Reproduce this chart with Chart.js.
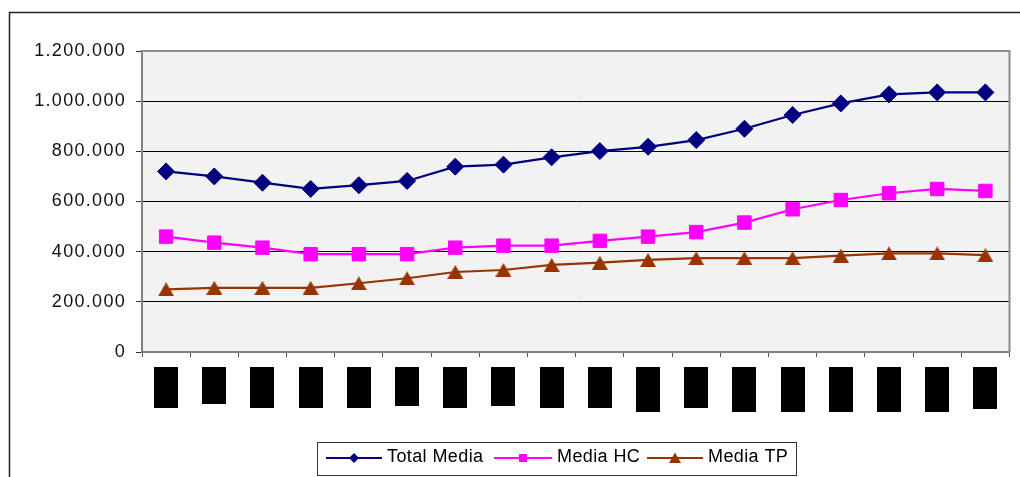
<!DOCTYPE html>
<html>
<head>
<meta charset="utf-8">
<style>
  html, body { margin: 0; padding: 0; background: #ffffff; }
  canvas { display: block; }
</style>
<script src="https://cdn.jsdelivr.net/npm/chart.js@4/dist/chart.umd.min.js"></script>
</head>
<body>
<canvas id="chart" width="1020" height="477"></canvas>
<script>
// Periods on the horizontal axis (their labels are masked when drawn)
const categories = ['P01', 'P02', 'P03', 'P04', 'P05', 'P06', 'P07', 'P08', 'P09',
                    'P10', 'P11', 'P12', 'P13', 'P14', 'P15', 'P16', 'P17', 'P18'];

// Series values
const totalMedia = [720000, 700000, 675000, 650000, 665000, 682000, 739000, 747000, 776000,
                    801000, 818000, 845000, 890000, 945000, 991000, 1027000, 1035000, 1035000];
const mediaHC    = [460000, 436000, 416000, 390000, 390000, 390000, 416000, 424000, 424000,
                    443000, 460000, 478000, 516000, 569000, 606000, 633000, 650000, 642000];
const mediaTP    = [250000, 256000, 256000, 256000, 274000, 294000, 319000, 327000, 347000,
                    356000, 367000, 374000, 374000, 374000, 384000, 393000, 393000, 386000];

// Value axis ticks
const yTicks = [0, 200000, 400000, 600000, 800000, 1000000, 1200000];

// Series names
const seriesNames = ['Total Media', 'Media HC', 'Media TP'];

// ---- styling ----
const COLORS = { total: '#000080', hc: '#FF00FF', tp: '#993300' };
const FONT = '"Liberation Sans", Arial, sans-serif';
const MASK_HEIGHTS = [41, 37, 41, 41, 41, 39, 41, 39, 41, 41, 45, 41, 45, 45, 45, 45, 45, 42];

const fmt = v => Math.round(v).toString().replace(/\B(?=(\d{3})+(?!\d))/g, '.');

// Triangle marker centred on its bounding box
function triangleImage(w, h, color) {
  const c = document.createElement('canvas');
  c.width = w; c.height = h;
  const g = c.getContext('2d');
  g.fillStyle = color;
  g.beginPath();
  g.moveTo(w / 2, 0);
  g.lineTo(w, h);
  g.lineTo(0, h);
  g.closePath();
  g.fill();
  return c;
}
const triMarker = triangleImage(16, 14, COLORS.tp);

function drawMarker(ctx, kind, x, y, color) {
  ctx.fillStyle = color;
  ctx.beginPath();
  if (kind === 'diamond') {
    ctx.moveTo(x, y - 5); ctx.lineTo(x + 5, y); ctx.lineTo(x, y + 5); ctx.lineTo(x - 5, y);
  } else if (kind === 'square') {
    ctx.rect(x - 4, y - 4, 8, 8);
  } else {
    ctx.moveTo(x, y - 5.5); ctx.lineTo(x + 6, y + 5); ctx.lineTo(x - 6, y + 5);
  }
  ctx.closePath();
  ctx.fill();
}

const framePlugin = {
  id: 'frame',
  beforeDraw(chart) {
    const { ctx, chartArea: a } = chart;
    ctx.save();
    // outer chart border (top and left edges)
    ctx.strokeStyle = '#222222';
    ctx.lineWidth = 1.5;
    ctx.beginPath();
    ctx.moveTo(9.5, chart.height + 2);
    ctx.lineTo(9.5, 12.5);
    ctx.lineTo(chart.width + 2, 12.5);
    ctx.stroke();
    // plot background
    ctx.fillStyle = '#F2F2F2';
    ctx.fillRect(a.left, a.top, a.right - a.left, a.bottom - a.top);
    ctx.restore();
    chart.ctx.letterSpacing = '1.3px';
  },
  beforeDatasetsDraw(chart) {
    const { ctx, chartArea: a } = chart;
    ctx.letterSpacing = '0px';
    ctx.save();
    ctx.strokeStyle = '#8C8C8C';
    ctx.lineWidth = 2;
    ctx.beginPath();
    ctx.moveTo(a.left, a.top);
    ctx.lineTo(a.right, a.top);
    ctx.lineTo(a.right, a.bottom);
    ctx.stroke();
    ctx.restore();
  },
  afterDraw(chart) {
    const { ctx } = chart;
    const xs = chart.scales.x;
    ctx.save();
    ctx.letterSpacing = '0px';
    // masked category labels
    ctx.fillStyle = '#000000';
    categories.forEach((c, i) => {
      const cx = xs.getPixelForValue(i);
      ctx.fillRect(Math.round(cx - 12), 367, 24, MASK_HEIGHTS[i]);
    });
    // legend
    ctx.fillStyle = '#ffffff';
    ctx.fillRect(317.5, 442.5, 479, 33);
    ctx.strokeStyle = '#333333';
    ctx.lineWidth = 1;
    ctx.strokeRect(317.5, 442.5, 479, 33);
    const items = [
      { x0: 326, x1: 382, tx: 387, color: COLORS.total, kind: 'diamond' },
      { x0: 494, x1: 552, tx: 557, color: COLORS.hc, kind: 'square' },
      { x0: 647, x1: 703, tx: 708, color: COLORS.tp, kind: 'triangle' }
    ];
    const ly = 458;
    items.forEach((it, i) => {
      ctx.strokeStyle = it.color;
      ctx.lineWidth = 2;
      ctx.beginPath();
      ctx.moveTo(it.x0, ly);
      ctx.lineTo(it.x1, ly);
      ctx.stroke();
      drawMarker(ctx, it.kind, (it.x0 + it.x1) / 2, ly, it.color);
      ctx.fillStyle = '#000000';
      ctx.font = '18px ' + FONT;
      ctx.letterSpacing = '0.4px';
      ctx.textAlign = 'left';
      ctx.textBaseline = 'middle';
      ctx.fillText(chart.data.datasets[i].label, it.tx, ly - 1);
    });
    ctx.restore();
  }
};

new Chart(document.getElementById('chart'), {
  type: 'line',
  data: {
    labels: categories,
    datasets: [
      {
        label: seriesNames[0], data: totalMedia,
        borderColor: COLORS.total, backgroundColor: COLORS.total, borderWidth: 2.2,
        pointStyle: 'rectRot', pointRadius: 8.5, pointBorderWidth: 1,
        pointBackgroundColor: COLORS.total, pointBorderColor: COLORS.total, tension: 0
      },
      {
        label: seriesNames[1], data: mediaHC,
        borderColor: COLORS.hc, backgroundColor: COLORS.hc, borderWidth: 2.2,
        pointStyle: 'rect', pointRadius: 9.5, pointBorderWidth: 1,
        pointBackgroundColor: COLORS.hc, pointBorderColor: COLORS.hc, tension: 0
      },
      {
        label: seriesNames[2], data: mediaTP,
        borderColor: COLORS.tp, backgroundColor: COLORS.tp, borderWidth: 2.2,
        pointStyle: triMarker, pointRadius: 8, tension: 0
      }
    ]
  },
  options: {
    responsive: false,
    animation: false,
    devicePixelRatio: 1,
    layout: { padding: { top: 51, right: 9, left: 0, bottom: 0 } },
    plugins: { legend: { display: false }, tooltip: { enabled: false } },
    scales: {
      x: {
        type: 'category',
        offset: true,
        grid: {
          offset: true, drawOnChartArea: false, drawTicks: true,
          tickLength: 5, tickColor: '#555555'
        },
        border: { display: true, color: '#808080', width: 2 },
        ticks: { display: false },
        afterFit(s) { s.height = 125; }
      },
      y: {
        min: 0, max: 1200000,
        afterBuildTicks(s) { s.ticks = yTicks.map(v => ({ value: v })); },
        grid: { color: '#000000', lineWidth: 1, tickLength: 6, tickColor: '#333333' },
        border: { display: true, color: '#808080', width: 2 },
        ticks: {
          callback: v => fmt(v),
          color: '#111111',
          font: { family: FONT, size: 18 },
          padding: 10
        },
        afterFit(s) { s.width = 142; }
      }
    }
  },
  plugins: [framePlugin]
});
</script>
</body>
</html>
